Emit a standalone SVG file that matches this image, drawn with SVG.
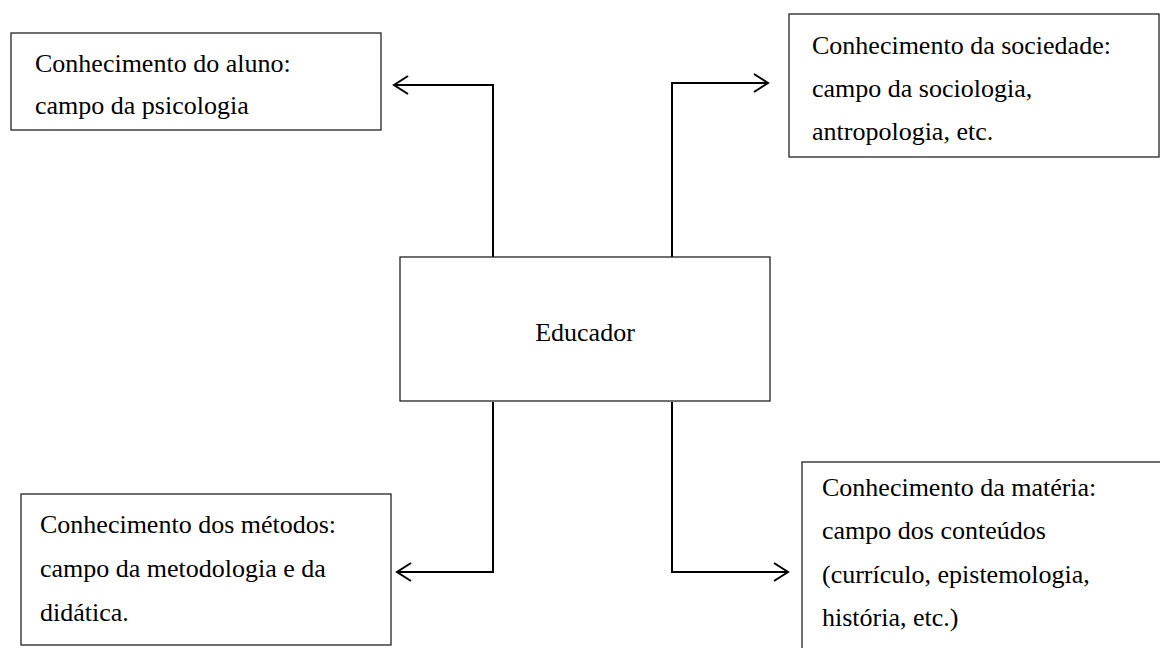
<svg xmlns="http://www.w3.org/2000/svg" width="1160" height="648" viewBox="0 0 1160 648">
  <style>
    .box { fill: #ffffff; stroke: #222222; stroke-width: 1.3; }
    .t { font-family: "Liberation Serif", "Times New Roman", serif; font-size: 26px; fill: #000000; }
    .c { fill: none; stroke: #000000; stroke-width: 2; }
  </style>
  <defs>
    <marker id="chev" markerUnits="userSpaceOnUse" markerWidth="30" markerHeight="30" viewBox="-20 -15 30 30" refX="0" refY="0" orient="auto" overflow="visible">
      <path d="M-14,-9 L0,0 L-14,9" fill="none" stroke="#000000" stroke-width="2"/>
    </marker>
  </defs>
  <rect width="1160" height="648" fill="#ffffff"/>

  <g id="connectors">
    <path class="c" d="M493,257 V85 H394" marker-end="url(#chev)"/>
    <path class="c" d="M672,257 V83 H768" marker-end="url(#chev)"/>
    <path class="c" d="M493,402 V572 H397" marker-end="url(#chev)"/>
    <path class="c" d="M672,402 V572 H788" marker-end="url(#chev)"/>
  </g>

  <g id="aluno">
    <rect class="box" x="11" y="33" width="370" height="97"/>
    <text class="t" x="35" y="72">Conhecimento do aluno:</text>
    <text class="t" x="35" y="114">campo da psicologia</text>
  </g>

  <g id="sociedade">
    <rect class="box" x="789" y="14" width="370" height="143"/>
    <text class="t" x="812" y="54">Conhecimento da sociedade:</text>
    <text class="t" x="812" y="97">campo da sociologia,</text>
    <text class="t" x="812" y="140">antropologia, etc.</text>
  </g>

  <g id="educador">
    <rect class="box" x="400" y="257" width="370" height="144"/>
    <text class="t" x="585" y="341" text-anchor="middle">Educador</text>
  </g>

  <g id="metodos">
    <rect class="box" x="21" y="494" width="370" height="151"/>
    <text class="t" x="40" y="533">Conhecimento dos métodos:</text>
    <text class="t" x="40" y="577">campo da metodologia e da</text>
    <text class="t" x="40" y="621">didática.</text>
  </g>

  <g id="materia">
    <rect class="box" x="802" y="462" width="370" height="200"/>
    <text class="t" x="822" y="496">Conhecimento da matéria:</text>
    <text class="t" x="822" y="539">campo dos conteúdos</text>
    <text class="t" x="822" y="583">(currículo, epistemologia,</text>
    <text class="t" x="822" y="626">história, etc.)</text>
  </g>
</svg>
